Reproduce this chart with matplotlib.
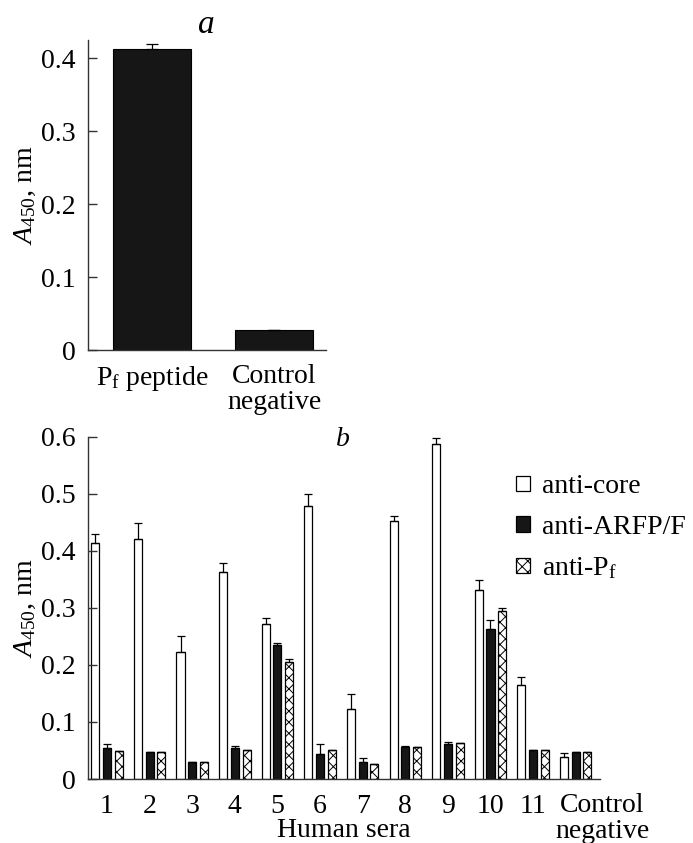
import numpy as np
import matplotlib
matplotlib.use('Agg')
import matplotlib.pyplot as plt
from matplotlib.patches import Patch

plt.rcParams['font.family'] = ['Liberation Serif', 'DejaVu Serif']
plt.rcParams['mathtext.fontset'] = 'custom'
plt.rcParams['mathtext.rm'] = 'Liberation Serif'
plt.rcParams['mathtext.it'] = 'Liberation Serif:italic'
plt.rcParams['hatch.linewidth'] = 0.7
plt.rcParams['font.size'] = 20

# panel a
a_labels = [r'P$_\mathrm{f}$ peptide', 'Control\nnegative']
a_values = [0.413, 0.027]
a_err = [0.006, 0.001]

# panel b
groups = ['1', '2', '3', '4', '5', '6', '7', '8', '9', '10', '11']
core = [0.413, 0.420, 0.223, 0.363, 0.272, 0.478, 0.123, 0.452, 0.587, 0.332, 0.164, 0.039]
core_err = [0.016, 0.029, 0.028, 0.016, 0.010, 0.021, 0.026, 0.009, 0.011, 0.017, 0.014, 0.007]
arfp = [0.055, 0.048, 0.029, 0.054, 0.235, 0.044, 0.030, 0.057, 0.061, 0.263, 0.050, 0.048]
arfp_err = [0.007, 0.0, 0.0, 0.004, 0.004, 0.017, 0.006, 0.001, 0.004, 0.016, 0.0, 0.0]
pf = [0.049, 0.048, 0.029, 0.050, 0.206, 0.050, 0.027, 0.056, 0.064, 0.294, 0.050, 0.047]
pf_err = [0.0, 0.0, 0.0, 0.0, 0.005, 0.0, 0.0, 0.0, 0.0, 0.006, 0.0, 0.0]

dark = '#161616'
fig = plt.figure(figsize=(6.93, 8.43), dpi=100)


def style_axes(ax):
    for s in ['top', 'right']:
        ax.spines[s].set_visible(False)
    for s in ['left', 'bottom']:
        ax.spines[s].set_linewidth(1)
        ax.spines[s].set_color('#333333')
    ax.tick_params(axis='y', direction='in', length=6.5, width=1, pad=9, color='#333333')


# ---- panel a ----
ax1 = fig.add_axes([0.127, 0.5848, 0.343, 0.3678])
xa = np.arange(len(a_values))
ax1.bar(xa, a_values, width=0.64, color=dark, edgecolor='black', linewidth=0.8,
        yerr=[np.zeros(len(a_err)), a_err],
        error_kw=dict(ecolor='black', elinewidth=0.9, capsize=4, capthick=0.9))
ax1.set_xlim(-0.525, 1.42)
ax1.set_ylim(0, 0.425)
ax1.set_yticks([0, 0.1, 0.2, 0.3, 0.4])
ax1.set_yticklabels(['0', '0.1', '0.2', '0.3', '0.4'])
ax1.set_xticks(xa)
ax1.set_xticklabels(a_labels, linespacing=1.05)
style_axes(ax1)
ax1.tick_params(axis='x', length=0, pad=10)
ax1.set_ylabel(r'$A_{450}$, nm', labelpad=2)
ax1.set_title('a', fontstyle='italic', pad=4)

# ---- panel b ----
ax2 = fig.add_axes([0.127, 0.0759, 0.7388, 0.406])
xb = np.arange(len(core))
bw = 0.19
off = 0.275
ek = dict(ecolor='black', elinewidth=0.9, capsize=3, capthick=0.9)
ax2.bar(xb - off, core, width=bw, color='white', edgecolor='black', linewidth=0.9,
        yerr=[np.zeros(len(core)), core_err], error_kw=ek)
ax2.bar(xb, arfp, width=bw, color=dark, edgecolor='black', linewidth=0.9,
        yerr=[np.zeros(len(arfp)), arfp_err], error_kw=ek)
ax2.bar(xb + off, pf, width=bw, color='white', edgecolor='black', linewidth=0.9, hatch='xxx',
        yerr=[np.zeros(len(pf)), pf_err], error_kw=ek)
ax2.set_xlim(-0.446, 11.57)
ax2.set_ylim(0, 0.6)
ax2.set_yticks([0, 0.1, 0.2, 0.3, 0.4, 0.5, 0.6])
ax2.set_yticklabels(['0', '0.1', '0.2', '0.3', '0.4', '0.5', '0.6'])
ax2.set_xticks(np.arange(len(groups)))
ax2.set_xticklabels(groups)
style_axes(ax2)
ax2.tick_params(axis='x', length=0, pad=11)
ax2.text(11.62, -0.070, 'Control\nnegative', ha='center', va='center', linespacing=1.05,
         clip_on=False)
ax2.set_ylabel(r'$A_{450}$, nm', labelpad=2)
ax2.set_xlabel('Human sera', labelpad=-1)
ax2.text(0.498, 0.992, 'b', transform=ax2.transAxes, ha='center', va='center',
         fontstyle='italic')

handles = [Patch(facecolor='white', edgecolor='black', linewidth=0.9, label='anti-core'),
           Patch(facecolor=dark, edgecolor='black', linewidth=0.9, label='anti-ARFP/F'),
           Patch(facecolor='white', edgecolor='black', linewidth=0.9, hatch='xxx',
                 label=r'anti-P$_\mathrm{f}$')]
ax2.legend(handles=handles, loc='upper left', bbox_to_anchor=(0.836, 0.89), frameon=False,
           handlelength=0.5, handleheight=0.5, handletextpad=0.43, labelspacing=0.56,
           borderaxespad=0, borderpad=0)

fig.savefig('out.png', dpi=100)
